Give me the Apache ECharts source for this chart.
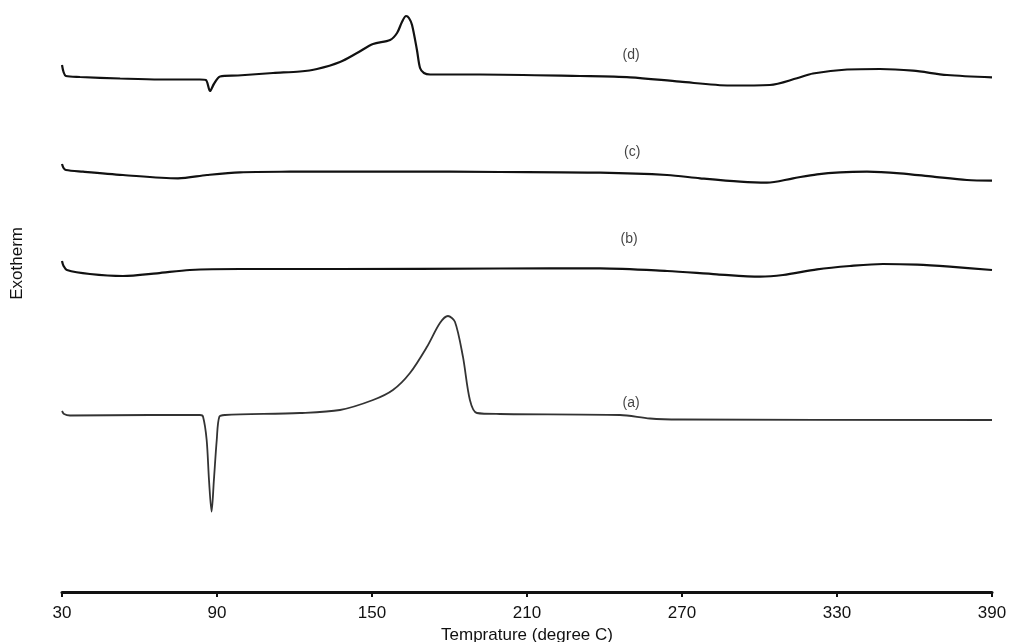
<!DOCTYPE html>
<html>
<head>
<meta charset="utf-8">
<script src="https://cdn.jsdelivr.net/npm/echarts@6/dist/echarts.min.js"></script>
<style>html,body{margin:0;padding:0;background:#fff}#c{width:1012px;height:642px}</style>
</head>
<body>
<div id="c"></div>
<script>
// Temperature (degree C) / relative heat-flow signal (arbitrary units, stacked offsets)
var curveA = [[30,181],[30.8,178],[33.1,176.5],[64.1,177],[83.4,177],[84.6,175.3],[86,152],[86.9,112],[87.9,80.3],[88.8,112],[89.9,152],[90.9,175.3],[93.1,177],[122.1,179],[137.6,182],[150.4,192],[158.1,202],[164.7,219],[171.3,245.3],[176.3,269],[179.4,276],[182.1,270.3],[185.2,235.3],[187.9,192],[190.6,179],[199.5,178],[246,177],[257.6,173.5],[269.2,172.5],[390,172]];
var curveB = [[30,331],[30.6,326],[31.9,322],[40.8,318],[53.6,316],[66.8,318.7],[79.5,322],[98.9,323],[137.6,323],[199.5,323.5],[238.3,323.7],[264.2,321],[283.5,317.7],[300.2,315.3],[309.1,317],[322.3,322.7],[335,326],[347.8,328],[361,327.3],[373.7,325.3],[390,322]];
var curveC = [[30,428],[30.6,424],[31.5,422],[38.1,420.3],[53.6,417],[74.9,413.7],[86.1,417],[98.9,419.7],[118.3,420.3],[160.8,420.5],[199.5,420],[238.3,419.3],[264.2,417],[277,413.7],[292.5,410.3],[302.9,409.3],[313,413.7],[322.3,417.7],[331.2,419.7],[341.6,420.3],[354.4,418.7],[367.2,415.3],[380.3,412],[390,411.3]];
var curveD = [[30,527],[30.6,520],[31.5,516],[37,515],[52.5,513.5],[67.9,512.5],[83.4,512.5],[85.7,512],[87.3,501],[88.8,508],[91.2,515.5],[98.1,516.5],[111.7,519],[122.1,520.5],[128.7,523],[137.6,530],[144.2,539],[150.4,548],[157,552],[159.7,559],[161.6,570],[163.2,576],[164.3,574],[165.5,567],[167.4,542],[168.6,524],[170.1,519],[172.5,517.5],[191.8,517.5],[230.5,516],[249.9,514.7],[269.2,510.3],[288.6,506.5],[304,507],[314.5,513.7],[320.7,518.5],[333.9,522.5],[346.6,523],[359.4,521.3],[372.6,517],[390,514.7]];
var curveLabels = [[250.3,189,'(a)'],[249.5,353,'(b)'],[250.7,440,'(c)'],[250.3,537,'(d)']];
var xTicks = [30,90,150,210,270,330,390];

var chart = echarts.init(document.getElementById('c'));
function lineSeries(name, data, width, color) {
  return {name:name, type:'line', data:data, showSymbol:false, symbol:'none',
    smooth:0.3,
    lineStyle:{color:color, width:width}, animation:false};
}
chart.setOption({
  animation:false,
  backgroundColor:'#fff',
  grid:{left:62, right:20, top:2, bottom:50, containLabel:false, outerBoundsMode:'none'},
  xAxis:{type:'value', min:30, max:390, interval:60,
    name:'Temprature (degree C)', nameLocation:'middle', nameGap:35,
    nameTextStyle:{fontFamily:'Liberation Sans', fontSize:17, color:'#111'},
    axisLine:{show:true, lineStyle:{color:'#111', width:3}},
    axisTick:{show:true, length:5, lineStyle:{color:'#111', width:2}},
    axisLabel:{margin:13, fontFamily:'Liberation Sans', fontSize:17, color:'#111',
      formatter:function(v){return xTicks.indexOf(v)>=0?String(v):'';}},
    splitLine:{show:false}},
  yAxis:{type:'value', min:0, max:590, show:false},
  graphic:[{type:'text', left:9, top:227, rotation:Math.PI/2,
    style:{text:'Exotherm', fontFamily:'Liberation Sans', fontSize:17, fill:'#111'}}],
  series:[
    lineSeries('(a)', curveA, 1.8, '#333'),
    lineSeries('(b)', curveB, 2.2, '#111'),
    lineSeries('(c)', curveC, 2.2, '#111'),
    lineSeries('(d)', curveD, 2.2, '#111'),
    {type:'scatter', data:curveLabels, symbolSize:0, animation:false, silent:true,
      label:{show:true, position:'inside', formatter:function(p){return p.data[2];},
        fontFamily:'Liberation Sans', fontSize:14, color:'#111'}}
  ]
});
</script>
</body>
</html>
